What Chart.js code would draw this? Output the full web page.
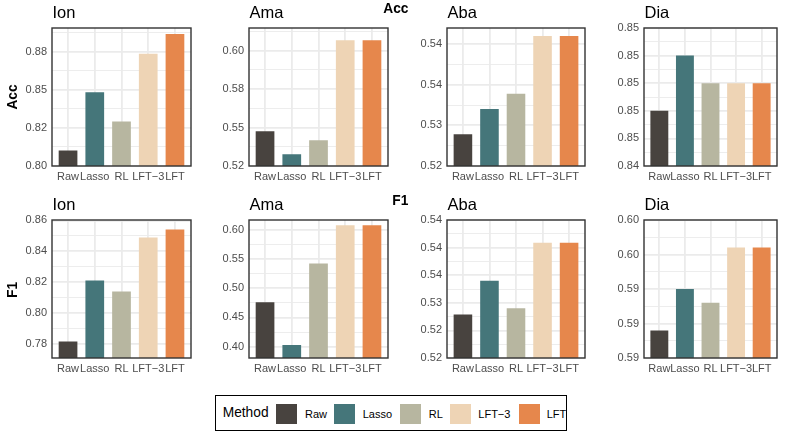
<!DOCTYPE html>
<html>
<head>
<meta charset="utf-8">
<script src="https://cdn.jsdelivr.net/npm/chart.js@4.4.1/dist/chart.umd.min.js"></script>
<style>
  body { margin: 0; width: 789px; height: 446px; background: #fff; position: relative; overflow: hidden;
         font-family: "Liberation Sans", Arial, sans-serif; }
  .txt { position: absolute; line-height: 1; white-space: nowrap; color: #000; }
  .holder { position: absolute; }
</style>
</head>
<body>
<script>
// categories and colours
var methods = ["Raw", "Lasso", "RL", "LFT\u22123", "LFT"];
var colors = ["#48433f", "#45767a", "#b7b6a0", "#eed4b5", "#e6874c"];
var datasetNames = ["Ion", "Ama", "Aba", "Dia"];
var metrics = ["Acc", "F1"];

// Acc values
var accIon = [0.8102, 0.8483, 0.8292, 0.8736, 0.8866];
var accAma = [0.5475, 0.5326, 0.5417, 0.6066, 0.6066];
var accAba = [0.5289, 0.5320, 0.5339, 0.5410, 0.5410];
var accDia = [0.8470, 0.8490, 0.8480, 0.8480, 0.8480];
// F1 values
var f1Ion = [0.7813, 0.8209, 0.8138, 0.8489, 0.8542];
var f1Ama = [0.4759, 0.4029, 0.5420, 0.6073, 0.6073];
var f1Aba = [0.5279, 0.5340, 0.5290, 0.5409, 0.5409];
var f1Dia = [0.5920, 0.5950, 0.5940, 0.5980, 0.5980];

// y ticks (values and the labels as printed)
var accIonTicks = [0.800, 0.825, 0.850, 0.875];
var accIonLabels = ["0.80", "0.82", "0.85", "0.88"];
var accAmaTicks = [0.525, 0.550, 0.575, 0.600];
var accAmaLabels = ["0.52", "0.55", "0.58", "0.60"];
var accAbaTicks = [0.525, 0.530, 0.535, 0.540];
var accAbaLabels = ["0.52", "0.53", "0.54", "0.54"];
var accDiaTicks = [0.845, 0.846, 0.847, 0.848, 0.849, 0.850];
var accDiaLabels = ["0.84", "0.85", "0.85", "0.85", "0.85", "0.85"];
var f1IonTicks = [0.78, 0.80, 0.82, 0.84, 0.86];
var f1IonLabels = ["0.78", "0.80", "0.82", "0.84", "0.86"];
var f1AmaTicks = [0.40, 0.45, 0.50, 0.55, 0.60];
var f1AmaLabels = ["0.40", "0.45", "0.50", "0.55", "0.60"];
var f1AbaTicks = [0.520, 0.525, 0.530, 0.535, 0.540, 0.545];
var f1AbaLabels = ["0.52", "0.52", "0.53", "0.54", "0.54", "0.54"];
var f1DiaTicks = [0.590, 0.5925, 0.595, 0.5975, 0.600];
var f1DiaLabels = ["0.59", "0.59", "0.59", "0.60", "0.60"];

// y limits
var accIonLim = [0.800, 0.8905];
var accAmaLim = [0.525, 0.6146];
var accAbaLim = [0.525, 0.54197];
var accDiaLim = [0.845, 0.850];
var f1IonLim = [0.7706, 0.8603];
var f1AmaLim = [0.3808, 0.6164];
var f1AbaLim = [0.520, 0.545];
var f1DiaLim = [0.590, 0.600];

// layout
var FONT = "'Liberation Sans', Arial, sans-serif";
var colLeft = [52, 249, 447, 644];
var colWidth = [139, 139, 138, 133];
var rowTop = [28, 220];
var rowHeight = [138, 138];
var PAD_L = 50, PAD_T = 12, PAD_R = 12, PAD_B = 26;

function addText(str, x, baseline, size, extra) {
  var s = document.createElement('span');
  s.className = 'txt';
  s.textContent = str;
  s.style.left = x + 'px';
  s.style.top = (baseline - 0.8465 * size) + 'px';
  s.style.fontSize = size + 'px';
  if (extra) s.style.cssText += extra;
  document.body.appendChild(s);
  return s;
}

var framePlugin = {
  id: 'frame',
  afterDraw: function(chart) {
    var a = chart.chartArea, c = chart.ctx;
    c.save();
    c.strokeStyle = '#333333';
    c.lineWidth = 1.4;
    c.strokeRect(a.left, a.top, a.right - a.left, a.bottom - a.top);
    c.restore();
  }
};

function drawPanel(r, c, vals, ticks, labels, lim) {
  var holder = document.createElement('div');
  holder.className = 'holder';
  holder.style.left = (colLeft[c] - PAD_L) + 'px';
  holder.style.top = (rowTop[r] - PAD_T) + 'px';
  holder.style.width = (PAD_L + colWidth[c] + PAD_R) + 'px';
  holder.style.height = (PAD_T + rowHeight[r] + PAD_B) + 'px';
  var cv = document.createElement('canvas');
  holder.appendChild(cv);
  document.body.appendChild(holder);

  // major ticks plus minor ones half way between
  var step = ticks[1] - ticks[0];
  var yTicks = ticks.map(function(t, i) { return { value: t, lbl: labels[i] }; });
  for (var i = -1; i < ticks.length; i++) {
    var m = i < 0 ? ticks[0] - step / 2 : ticks[i] + step / 2;
    if (m > lim[0] + 1e-9 && m < lim[1] - 1e-9) yTicks.push({ value: m, lbl: '', minor: true });
  }
  yTicks.sort(function(a, b) { return a.value - b.value; });

  new Chart(cv, {
    type: 'bar',
    data: {
      datasets: [{
        data: vals.map(function(v, i) { return { x: i + 1, y: v }; }),
        backgroundColor: colors,
        borderWidth: 0,
        categoryPercentage: 1,
        barPercentage: 0.7
      }]
    },
    options: {
      responsive: true,
      maintainAspectRatio: false,
      animation: false,
      layout: { padding: { top: PAD_T, right: PAD_R, left: 0, bottom: 0 } },
      plugins: { legend: { display: false }, tooltip: { enabled: false } },
      scales: {
        x: {
          type: 'linear', min: 0.4, max: 5.6, offset: false,
          afterBuildTicks: function(ax) { ax.ticks = methods.map(function(m, i) { return { value: i + 1 }; }); },
          afterFit: function(ax) { ax.height = PAD_B; },
          ticks: {
            callback: function(v) { return methods[Math.round(v) - 1]; },
            color: '#4d4d4d', font: { family: FONT, size: 11 }, padding: 4,
            maxRotation: 0, minRotation: 0, autoSkip: false
          },
          grid: { color: '#ebebeb', lineWidth: 1.8, drawTicks: false, offset: false },
          border: { display: false }
        },
        y: {
          min: lim[0], max: lim[1],
          afterBuildTicks: function(ax) { ax.ticks = yTicks.map(function(t) { return { value: t.value, lbl: t.lbl, minor: t.minor }; }); },
          afterFit: function(ax) { ax.width = PAD_L; },
          ticks: {
            callback: function(v, i, ts) { return ts[i].lbl; },
            color: '#4d4d4d', font: { family: FONT, size: 11 }, padding: 5, autoSkip: false
          },
          grid: {
            color: '#ebebeb', drawTicks: false,
            lineWidth: function(ctx) { return ctx.tick && ctx.tick.minor ? 0.9 : 1.8; }
          },
          border: { display: false }
        }
      }
    },
    plugins: [framePlugin]
  });
}

var accVals = [accIon, accAma, accAba, accDia];
var accTicks = [accIonTicks, accAmaTicks, accAbaTicks, accDiaTicks];
var accLabels = [accIonLabels, accAmaLabels, accAbaLabels, accDiaLabels];
var accLims = [accIonLim, accAmaLim, accAbaLim, accDiaLim];
var f1Vals = [f1Ion, f1Ama, f1Aba, f1Dia];
var f1Ticks = [f1IonTicks, f1AmaTicks, f1AbaTicks, f1DiaTicks];
var f1Labels = [f1IonLabels, f1AmaLabels, f1AbaLabels, f1DiaLabels];
var f1Lims = [f1IonLim, f1AmaLim, f1AbaLim, f1DiaLim];

for (var c = 0; c < 4; c++) {
  drawPanel(0, c, accVals[c], accTicks[c], accLabels[c], accLims[c]);
  drawPanel(1, c, f1Vals[c], f1Ticks[c], f1Labels[c], f1Lims[c]);
  addText(datasetNames[c], colLeft[c] + 0.5, 18.3, 16.5);
  addText(datasetNames[c], colLeft[c] + 0.5, 210, 16.5);
}

// y axis titles (rotated) and the stray ones over the third column
var rot = 'font-weight:bold;transform:translate(-50%,-50%) rotate(-90deg);';
var t1 = addText(metrics[0], 12.5, 0, 13.75, rot); t1.style.top = '97px';
var t2 = addText(metrics[1], 12.5, 0, 13.75, rot); t2.style.top = '290px';
addText(metrics[0], 383.3, 13.5, 13.75, 'font-weight:bold;');
addText(metrics[1], 392.3, 205.5, 13.75, 'font-weight:bold;');

// legend
var lg = document.createElement('div');
lg.style.cssText = 'position:absolute;left:215px;top:395px;width:352px;height:36px;border:1px solid #000;box-sizing:border-box;';
document.body.appendChild(lg);
addText('Method', 222.7, 418, 13.75);
var keyX = [276, 334, 400, 450, 519];
var labX = [305, 362.7, 428.7, 478.3, 546.7];
methods.forEach(function(m, i) {
  var k = document.createElement('div');
  k.style.cssText = 'position:absolute;top:404px;width:20.5px;height:20px;left:' + keyX[i] + 'px;background:' + colors[i] + ';';
  document.body.appendChild(k);
  addText(m, labX[i], 418, 11);
});
</script>
</body>
</html>
